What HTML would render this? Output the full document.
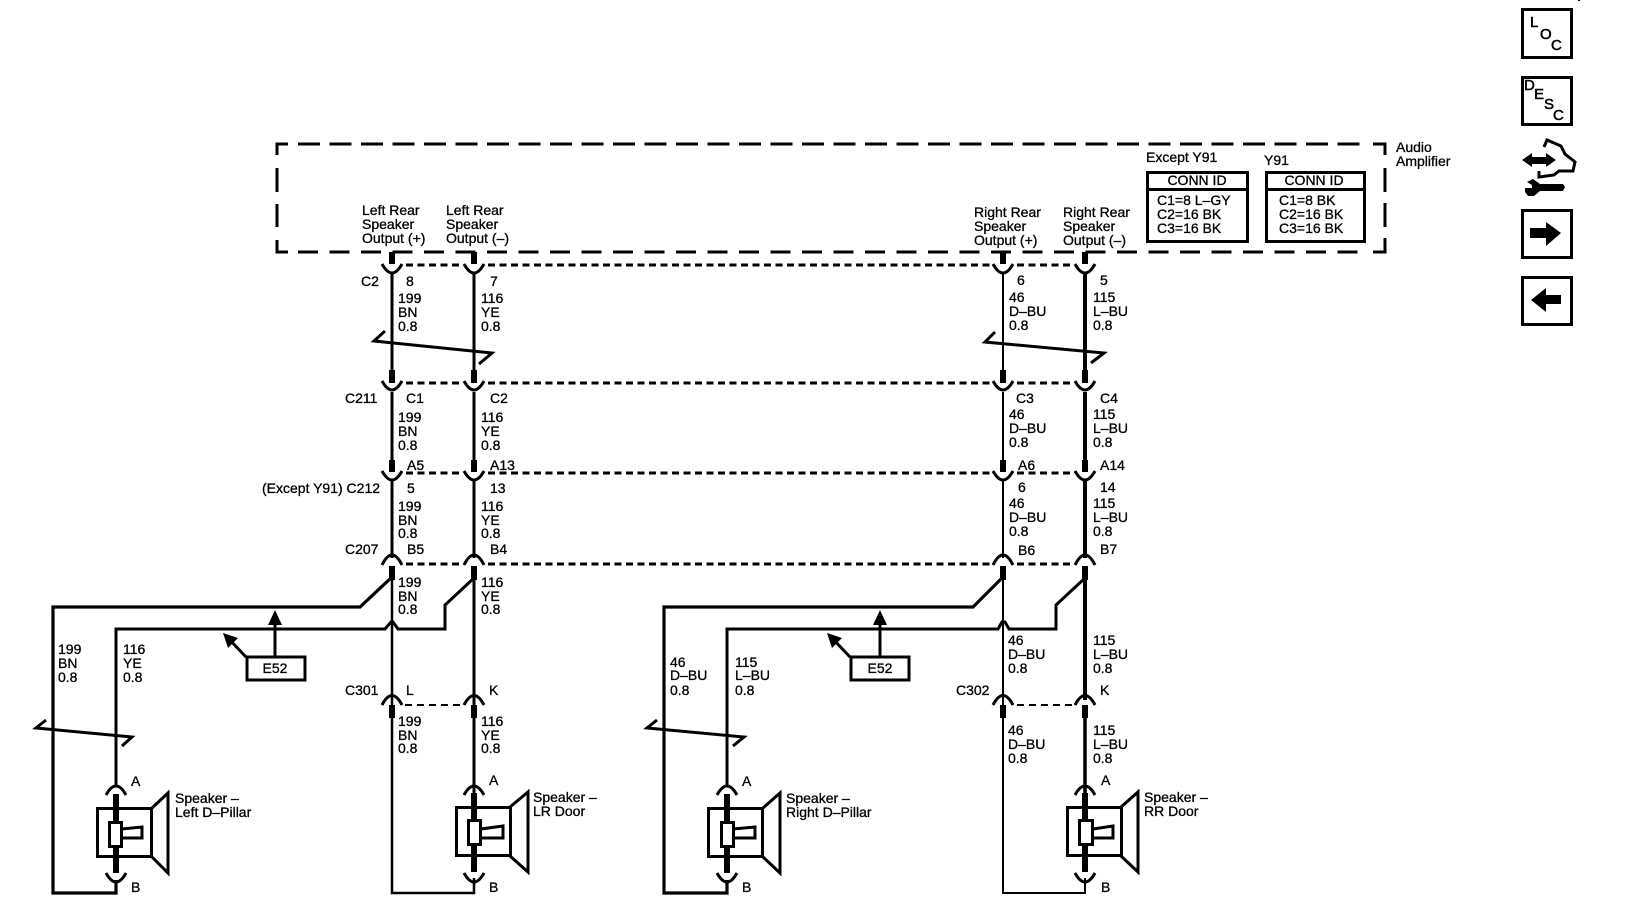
<!DOCTYPE html>
<html><head><meta charset="utf-8"><style>
html,body{margin:0;padding:0;background:#fff;width:1632px;height:918px;overflow:hidden}
svg{display:block}
text{font-family:"Liberation Sans",sans-serif;font-size:14px;fill:#000;stroke:#000;stroke-width:.3}
.b{font-size:15px;stroke-width:.5}
.w,.w path,.w line,.w rect,.w polyline{fill:none;stroke:#000}
</style></head><body>
<svg width="1632" height="918" viewBox="0 0 1632 918" xmlns="http://www.w3.org/2000/svg">
<rect width="1632" height="918" fill="#fff"/>
<!-- amplifier dashed box -->
<g class="w">
<path d="M277 155V144H288" stroke-width="3"/>
<line x1="298" y1="144" x2="1368" y2="144" stroke-width="3" stroke-dasharray="22 9.500"/>
<path d="M1373 144H1385V155" stroke-width="3"/>
<line x1="1385" y1="168" x2="1385" y2="241" stroke-width="3" stroke-dasharray="24 11"/>
<line x1="277" y1="168" x2="277" y2="192" stroke-width="3"/>
<line x1="277" y1="204" x2="277" y2="227" stroke-width="3"/>
<path d="M277 240V252H288" stroke-width="3"/>
<line x1="298" y1="252" x2="1368" y2="252" stroke-width="3" stroke-dasharray="20 11.500"/>
<path d="M1373 252H1385V240" stroke-width="3"/>
</g>
<!-- horizontal connector dashes -->
<g class="w" stroke-width="3" stroke-dasharray="7 4.500">
<path d="M406 265H462M488 265H990M1017 265H1072"/>
<path d="M406 383H462M488 383H990M1017 383H1072"/>
<path d="M406 473H462M488 473H990M1017 473H1072"/>
<path d="M406 564H462M488 564H990M1017 564H1072"/>
</g>
<g class="w" stroke-width="2" stroke-dasharray="7 5">
<path d="M405 705H462M1017 705H1072"/>
</g>
<!-- vertical wires -->
<g class="w">
<path d="M392 272V376M474 272V376M392 392V466M474 392V466M392 480V558M474 480V558" stroke-width="3"/>
<path d="M392 570V893H474V878" stroke-width="2.500"/>
<path d="M474 570V793" stroke-width="3"/>
<path d="M1003 272V376M1003 392V466M1003 480V558M1003 570V893H1085V878" stroke-width="2"/>
<path d="M1085 272V376M1085 392V466M1085 480V558" stroke-width="4"/>
<path d="M1085 570V700" stroke-width="4"/>
<path d="M1085 710V793" stroke-width="3.500"/>
</g>
<!-- stubs -->
<g class="w" stroke-width="6">
<path d="M392 252V264M474 252V264M1003 252V264M1085 252V264"/>
<path d="M392 370V383M474 370V383M1003 370V383M1085 370V383"/>
<path d="M392 460V472M474 460V472M1003 460V472M1085 460V472"/>
<path d="M392 566V580M474 566V580M1003 566V580M1085 566V580"/>
<path d="M392 705V718M474 705V718M1003 705V718M1085 705V718"/>
</g>
<!-- cups -->
<g class="w" stroke-width="3">
<path d="M382 264Q392 282 402 264M464 264Q474 282 484 264M993 264Q1003 282 1013 264M1075 264Q1085 282 1095 264"/>
<path d="M382 381Q392 399 402 381M464 381Q474 399 484 381M993 381Q1003 399 1013 381M1075 381Q1085 399 1095 381"/>
<path d="M382 471Q392 489 402 471M464 471Q474 489 484 471M993 471Q1003 489 1013 471M1075 471Q1085 489 1095 471"/>
<path d="M382 565Q392 545 402 565M464 565Q474 545 484 565M993 565Q1003 545 1013 565M1075 565Q1085 545 1095 565"/>
<path d="M382 705Q392 686 402 705M464 705Q474 686 484 705M993 705Q1003 686 1013 705M1075 705Q1085 686 1095 705"/>
</g>
<!-- break symbols -->
<g class="w" stroke-width="3">
<path d="M385 331L374 341L492 353L479 364"/>
<path d="M995 332L985 342L1104 353L1091 363"/>
<path d="M46 720L36 728L132 737L122 746"/>
<path d="M657 720L647 728L744 737L733 746"/>
</g>
<!-- harness -->
<g class="w">
<path d="M392 577L360 607H53V893H116V880" stroke-width="3.200"/>
<path d="M116 786V629H385L391 622L393 622L398 629H445V605L474 578" stroke-width="3"/>
<path d="M1003 577L973 607H664V893H727V880" stroke-width="3.200"/>
<path d="M727 786V629H998L1002 622L1005 622L1009 629H1056V605L1085 578" stroke-width="3"/>
</g>
<!-- E52 boxes and arrows -->
<g class="w" stroke-width="3">
<rect x="247" y="657" width="58" height="23"/>
<rect x="851" y="657" width="58" height="23"/>
<path d="M275 657V622M880 657V622M246 657L228 638M850 657L832 638"/>
</g>
<polygon points="275,610 268,625 282,625"/>
<polygon points="880,610 873,625 887,625"/>
<polygon points="223,633 238,638 228,648"/>
<polygon points="827,633 842,638 832,648"/>
<!-- speakers -->
<g class="w" stroke-width="3">
<path d="M106 795Q116 777 126 795"/><path d="M106 873Q116 891 126 873"/>
<rect x="97.500" y="808.500" width="54" height="48"/>
<rect x="109.500" y="822.500" width="12" height="24"/>
<path d="M122 829L142 827V838H122"/>
<path d="M152 808L168 793V873L152 857"/>
<path d="M464 795Q474 777 484 795"/><path d="M464 873Q474 891 484 873"/>
<rect x="456.500" y="807.500" width="54" height="48"/>
<rect x="468.500" y="820.500" width="12" height="24"/>
<path d="M481 829L503 826V838H481"/>
<path d="M510 807L528 792V872L510 856"/>
<path d="M717 795Q727 777 737 795"/><path d="M717 873Q727 891 737 873"/>
<rect x="708.500" y="808.500" width="54" height="48"/>
<rect x="721.500" y="822.500" width="12" height="24"/>
<path d="M733 829L755 827V838H733"/>
<path d="M763 808L780 793V873L763 857"/>
<path d="M1075 795Q1085 777 1095 795"/><path d="M1075 873Q1085 891 1095 873"/>
<rect x="1067.500" y="807.500" width="54" height="48"/>
<rect x="1079.500" y="820.500" width="13" height="24"/>
<path d="M1093 829L1113 826V838H1093"/>
<path d="M1121 807L1138 792V872L1121 856"/>
</g>
<g class="w" stroke-width="6">
<path d="M116 794V822M116 847V873M474 793V820M474 845V872M727 794V822M727 847V873M1085 793V820M1085 845V872"/>
</g>
<!-- conn tables -->
<g class="w" stroke-width="3">
<rect x="1147.500" y="172.500" width="100" height="69"/><path d="M1147 189.500H1248"/>
<rect x="1266.500" y="172.500" width="98" height="69"/><path d="M1266 189.500H1365"/>
</g>
<text x="1396" y="152">Audio</text><text x="1396" y="166">Amplifier</text>
<text x="1146" y="162">Except Y91</text><text x="1264" y="165">Y91</text>
<text x="1197" y="185" text-anchor="middle">CONN ID</text><text x="1314" y="185" text-anchor="middle">CONN ID</text>
<text x="1157" y="205">C1=8 L–GY</text><text x="1157" y="219">C2=16 BK</text><text x="1157" y="233">C3=16 BK</text>
<text x="1279" y="205">C1=8 BK</text><text x="1279" y="219">C2=16 BK</text><text x="1279" y="233">C3=16 BK</text>
<!-- output labels -->
<text x="362" y="215">Left Rear</text><text x="362" y="229">Speaker</text><text x="362" y="243">Output (+)</text>
<text x="446" y="215">Left Rear</text><text x="446" y="229">Speaker</text><text x="446" y="243">Output (–)</text>
<text x="974" y="217">Right Rear</text><text x="974" y="231">Speaker</text><text x="974" y="245">Output (+)</text>
<text x="1063" y="217">Right Rear</text><text x="1063" y="231">Speaker</text><text x="1063" y="245">Output (–)</text>
<!-- C2 row -->
<text x="361" y="286">C2</text><text x="406" y="286">8</text><text x="490" y="286">7</text><text x="1017" y="285">6</text><text x="1100" y="285">5</text>
<text x="398" y="303">199</text><text x="398" y="317">BN</text><text x="398" y="331">0.8</text>
<text x="481" y="303">116</text><text x="481" y="317">YE</text><text x="481" y="331">0.8</text>
<text x="1009" y="302">46</text><text x="1009" y="316">D–BU</text><text x="1009" y="330">0.8</text>
<text x="1093" y="302">115</text><text x="1093" y="316">L–BU</text><text x="1093" y="330">0.8</text>
<!-- C211 row -->
<text x="345" y="403">C211</text><text x="406" y="403">C1</text><text x="490" y="403">C2</text><text x="1016" y="403">C3</text><text x="1100" y="403">C4</text>
<text x="398" y="422">199</text><text x="398" y="436">BN</text><text x="398" y="450">0.8</text>
<text x="481" y="422">116</text><text x="481" y="436">YE</text><text x="481" y="450">0.8</text>
<text x="1009" y="419">46</text><text x="1009" y="433">D–BU</text><text x="1009" y="447">0.8</text>
<text x="1093" y="419">115</text><text x="1093" y="433">L–BU</text><text x="1093" y="447">0.8</text>
<text x="407" y="470">A5</text><text x="490" y="470">A13</text><text x="1018" y="470">A6</text><text x="1100" y="470">A14</text>
<!-- C212 row -->
<text x="262" y="493">(Except Y91) C212</text><text x="407" y="493">5</text><text x="490" y="493">13</text><text x="1018" y="492">6</text><text x="1100" y="492">14</text>
<text x="398" y="511">199</text><text x="398" y="525">BN</text><text x="398" y="538">0.8</text>
<text x="481" y="511">116</text><text x="481" y="525">YE</text><text x="481" y="538">0.8</text>
<text x="1009" y="508">46</text><text x="1009" y="522">D–BU</text><text x="1009" y="536">0.8</text>
<text x="1093" y="508">115</text><text x="1093" y="522">L–BU</text><text x="1093" y="536">0.8</text>
<!-- C207 row -->
<text x="345" y="554">C207</text><text x="407" y="554">B5</text><text x="490" y="554">B4</text><text x="1018" y="555">B6</text><text x="1100" y="554">B7</text>
<text x="398" y="587">199</text><text x="398" y="601">BN</text><text x="398" y="614">0.8</text>
<text x="481" y="587">116</text><text x="481" y="601">YE</text><text x="481" y="614">0.8</text>
<text x="58" y="654">199</text><text x="58" y="668">BN</text><text x="58" y="682">0.8</text>
<text x="123" y="654">116</text><text x="123" y="668">YE</text><text x="123" y="682">0.8</text>
<text x="670" y="667">46</text><text x="670" y="680">D–BU</text><text x="670" y="695">0.8</text>
<text x="735" y="667">115</text><text x="735" y="680">L–BU</text><text x="735" y="695">0.8</text>
<text x="1008" y="645">46</text><text x="1008" y="659">D–BU</text><text x="1008" y="673">0.8</text>
<text x="1093" y="645">115</text><text x="1093" y="659">L–BU</text><text x="1093" y="673">0.8</text>
<text x="275" y="673" text-anchor="middle">E52</text><text x="880" y="673" text-anchor="middle">E52</text>
<!-- C301/C302 row -->
<text x="345" y="695">C301</text><text x="406" y="695">L</text><text x="489" y="695">K</text>
<text x="956" y="695">C302</text><text x="1100" y="695">K</text>
<text x="398" y="726">199</text><text x="398" y="740">BN</text><text x="398" y="753">0.8</text>
<text x="481" y="726">116</text><text x="481" y="740">YE</text><text x="481" y="753">0.8</text>
<text x="1008" y="735">46</text><text x="1008" y="749">D–BU</text><text x="1008" y="763">0.8</text>
<text x="1093" y="735">115</text><text x="1093" y="749">L–BU</text><text x="1093" y="763">0.8</text>
<!-- pin letters -->
<text x="131" y="786">A</text><text x="131" y="892">B</text><text x="489" y="785">A</text><text x="489" y="892">B</text>
<text x="742" y="786">A</text><text x="742" y="892">B</text><text x="1101" y="785">A</text><text x="1101" y="892">B</text>
<!-- speaker labels -->
<text x="175" y="803">Speaker –</text><text x="175" y="817">Left D–Pillar</text>
<text x="533" y="802">Speaker –</text><text x="533" y="816">LR Door</text>
<text x="786" y="803">Speaker –</text><text x="786" y="817">Right D–Pillar</text>
<text x="1144" y="802">Speaker –</text><text x="1144" y="816">RR Door</text>
<!-- sidebar -->
<g class="w" stroke-width="3">
<rect x="1522.500" y="9.500" width="49" height="48"/>
<rect x="1522.500" y="77.500" width="49" height="47"/>
<rect x="1522.500" y="210.500" width="49" height="47"/>
<rect x="1522.500" y="277.500" width="49" height="47"/>
</g>
<text class="b" x="1530" y="27">L</text><text class="b" x="1540" y="39">O</text><text class="b" x="1551" y="50">C</text>
<text class="b" x="1524" y="90">D</text><text class="b" x="1534" y="99">E</text><text class="b" x="1544" y="109">S</text><text class="b" x="1553" y="120">C</text>
<polygon points="1530,228 1546,228 1546,222 1561,233 1546,246 1546,238 1530,238"/>
<polygon points="1531,300 1546,288 1546,295 1561,295 1561,304 1546,304 1546,312"/>
<!-- hand / wrench icon -->
<polygon points="1522,160 1532,153 1532,157 1546,157 1546,153 1556,160 1546,167 1546,164 1532,164 1532,167"/>
<g class="w" stroke-width="3">
<polyline points="1544,147 1547,140 1561,146 1565,154 1575,162 1573,171 1559,171 1554,175 1539,177 1539,171"/>
</g>
<polygon points="1527,182 1533,179 1540,184 1563,184 1565,187 1563,191 1540,191 1534,196 1528,196 1525,192 1525,188 1532,188 1532,185"/>
<rect x="1578" y="0" width="2" height="1"/>
</svg>
</body></html>
